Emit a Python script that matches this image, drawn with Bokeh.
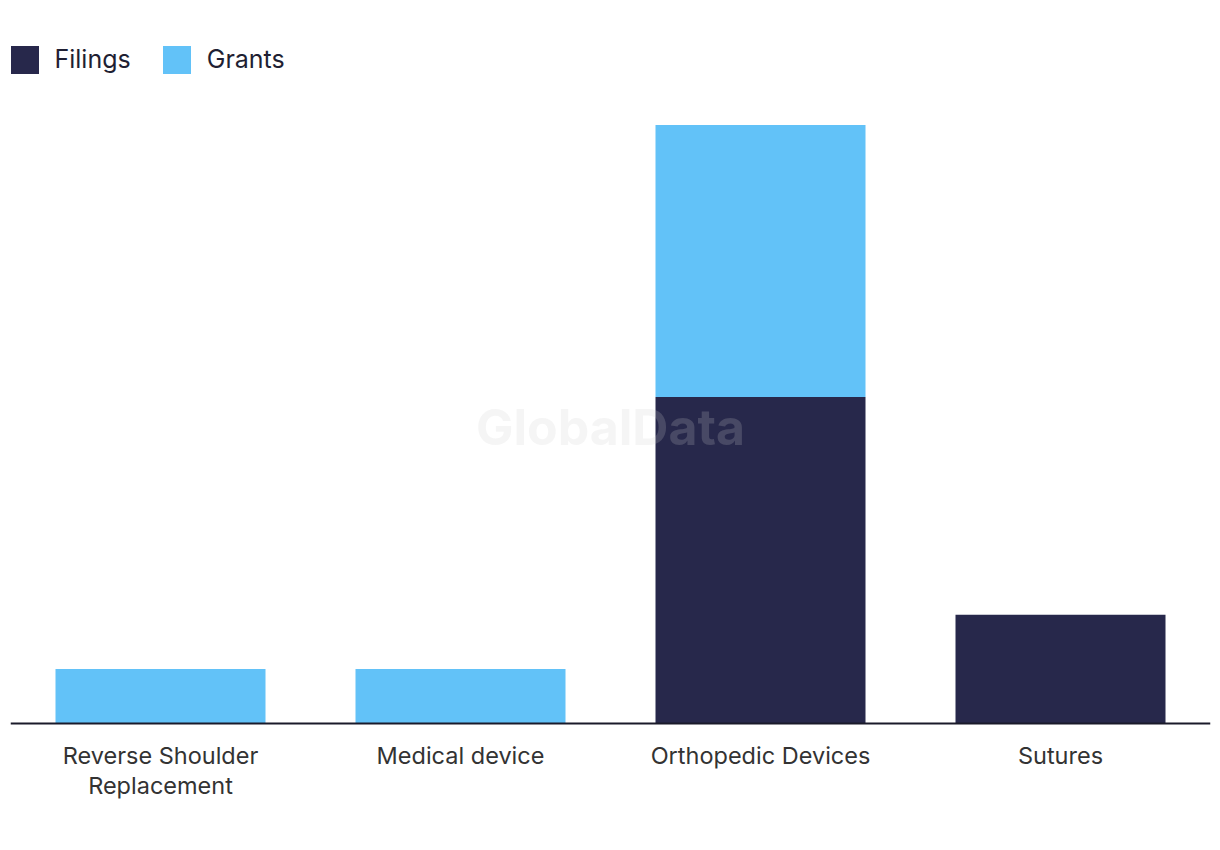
from bokeh.plotting import figure
from bokeh.models import ColumnDataSource, FactorRange, Range1d, Legend, LegendItem, Label, Span
from bokeh.core.properties import value
from bokeh.embed import file_html
from bokeh.resources import INLINE

categories = ["Reverse Shoulder Replacement", "Medical device", "Orthopedic Devices", "Sutures"]
tick_labels = ["Reverse Shoulder\nReplacement", "Medical device", "Orthopedic Devices", "Sutures"]
filings = [0, 0, 6, 2]
grants = [1, 1, 5, 0]
series = ["Filings", "Grants"]
colors = ["#27284b", "#62c2f8"]

src = ColumnDataSource(dict(cat=categories, Filings=filings, Grants=grants))

FONT = "Inter"
LINE_H = 30
FIRST_BASE = 32

# category label lines (multi-line labels split into rows)
lab_x, lab_text, lab_off = [], [], []
for c, t in zip(categories, tick_labels):
    for i, line in enumerate(t.split("\n")):
        lab_x.append(c)
        lab_text.append(line)
        lab_off.append(FIRST_BASE + i * LINE_H)
lab_src = ColumnDataSource(dict(x=lab_x, y=[0] * len(lab_x), text=lab_text, off=lab_off))

p = figure(x_range=FactorRange(*categories, range_padding=0),
           y_range=Range1d(-1.838, 13.14),
           width=1220, height=823, output_backend="svg", toolbar_location=None,
           min_border_left=10, min_border_right=10, min_border_top=8, min_border_bottom=0)

rs = p.vbar_stack(series, x="cat", width=0.7, color=colors, source=src, line_width=0)

p.outline_line_color = None
p.xgrid.grid_line_color = None
p.ygrid.grid_line_color = None
p.yaxis.visible = False
p.xaxis.visible = False

p.add_layout(Span(location=0, dimension="width", line_color="#1a1a2a", line_width=2))

p.text(x="x", y="y", text="text", y_offset="off", source=lab_src,
       text_align="center", text_baseline="alphabetic",
       text_font=value(FONT), text_font_size="23.5px", text_color="#333333")

legend = Legend(items=[LegendItem(label=s, renderers=[r]) for s, r in zip(series, rs)],
                orientation="horizontal", location=(-3.5, 746.5),
                glyph_width=35, glyph_height=35, label_standoff=13, spacing=28,
                label_text_font=FONT, label_text_font_size="25px", label_text_color="#1f1f33",
                padding=0, margin=0, border_line_color=None, background_fill_alpha=0)
p.add_layout(legend)

wm = Label(x=2.0, y=5.44, text="GlobalData", text_align="center", text_baseline="middle",
           text_font=FONT, text_font_style="bold", text_font_size="50px",
           text_color="#cfcfcf", text_alpha=0.2)
p.add_layout(wm)

open("out.html", "w").write(file_html(p, INLINE))
